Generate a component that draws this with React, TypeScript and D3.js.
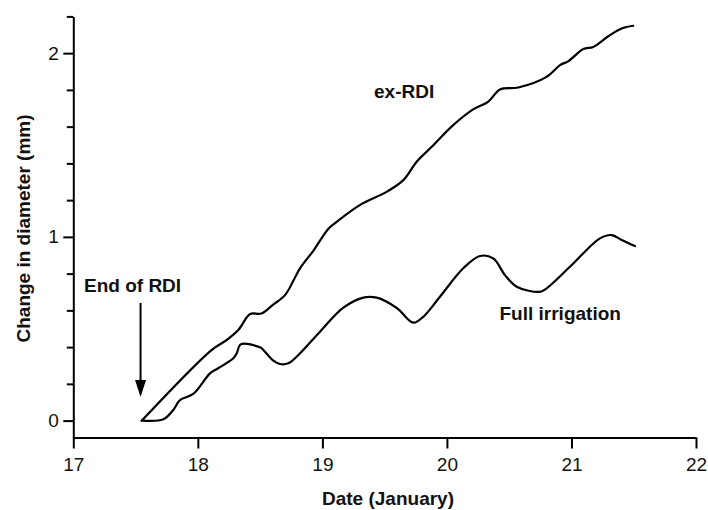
import React, { useEffect, useRef } from "react";
import * as d3 from "d3";

// Stem diameter change after the end of regulated deficit irrigation (RDI)
const exRdiDays = [
  17.55, 18.11, 18.23, 18.325, 18.42, 18.51, 18.6, 18.7, 18.77, 18.82, 18.93,
  19.05, 19.115, 19.3, 19.515, 19.65, 19.757, 19.878, 20.05, 20.21, 20.33,
  20.426, 20.573, 20.8, 20.908, 20.974, 21.095, 21.175, 21.296, 21.403, 21.496,
];
const exRdiValues = [
  0, 0.384, 0.438, 0.493, 0.58, 0.583, 0.629, 0.683, 0.765, 0.829, 0.927,
  1.046, 1.082, 1.173, 1.245, 1.309, 1.409, 1.49, 1.608, 1.694, 1.735,
  1.802, 1.813, 1.871, 1.935, 1.956, 2.022, 2.034, 2.092, 2.134, 2.149,
];

const fullDays = [
  17.55, 17.723, 17.803, 17.857, 17.963, 18.098, 18.164, 18.285, 18.312,
  18.344, 18.499, 18.526, 18.606, 18.66, 18.726, 18.807, 18.981, 19.166,
  19.328, 19.436, 19.597, 19.73, 19.81, 19.944, 20.131, 20.265, 20.372,
  20.466, 20.56, 20.747, 20.801, 20.988, 21.229, 21.323, 21.403, 21.51,
];
const fullValues = [
  0, 0.007, 0.058, 0.112, 0.145, 0.257, 0.285, 0.339, 0.366,
  0.415, 0.399, 0.384, 0.326, 0.308, 0.312, 0.357, 0.484, 0.613,
  0.669, 0.669, 0.613, 0.533, 0.565, 0.674, 0.829, 0.896, 0.883,
  0.792, 0.729, 0.701, 0.72, 0.837, 0.992, 1.01, 0.983, 0.95,
];

const xTicks = [17, 18, 19, 20, 21, 22];
const yMajorTicks = [0, 1, 2];
const yMinorTicks = [0.2, 0.4, 0.6, 0.8, 1.2, 1.4, 1.6, 1.8, 2.2];
const rdiEndDay = 17.54;

const W = 708;
const H = 510;
const FONT = "'Liberation Sans', Arial, Helvetica, sans-serif";

export default function App() {
  const ref = useRef<SVGSVGElement | null>(null);

  useEffect(() => {
    const svg = d3.select(ref.current);
    svg.selectAll("*").remove();

    const x = d3.scaleLinear().domain([17, 22]).range([73.3, 696]);
    const y = d3.scaleLinear().domain([-0.092, 2.2]).range([437.5, 16.4]);

    // x axis
    const gx = svg
      .append("g")
      .attr("transform", `translate(0,${y(-0.092)})`)
      .call(
        d3
          .axisBottom(x)
          .tickValues(xTicks)
          .tickFormat(d3.format("d"))
          .tickSize(11)
          .tickSizeOuter(0)
          .tickPadding(9)
      );
    gx.select(".domain").attr("stroke-width", 2);
    gx.selectAll(".tick line").attr("stroke-width", 2);
    gx.selectAll(".tick text")
      .attr("font-size", 19)
      .attr("font-family", FONT)
      .attr("fill", "#111");

    // y axis: minor ticks
    const gyMinor = svg
      .append("g")
      .attr("transform", `translate(${x(17)},0)`)
      .call(
        d3
          .axisLeft(y)
          .tickValues(yMinorTicks)
          .tickFormat(() => "")
          .tickSize(6.5)
          .tickSizeOuter(0)
      );
    gyMinor.select(".domain").remove();
    gyMinor.selectAll(".tick line").attr("stroke-width", 2);

    // y axis: major ticks with labels
    const gy = svg
      .append("g")
      .attr("transform", `translate(${x(17)},0)`)
      .call(
        d3
          .axisLeft(y)
          .tickValues(yMajorTicks)
          .tickFormat(d3.format("d"))
          .tickSize(10)
          .tickSizeOuter(0)
          .tickPadding(4.5)
      );
    gy.select(".domain").attr("stroke-width", 2);
    gy.selectAll(".tick line").attr("stroke-width", 2);
    gy.selectAll(".tick text")
      .attr("font-size", 19)
      .attr("font-family", FONT)
      .attr("fill", "#111");

    // series lines
    const line = d3
      .line<[number, number]>()
      .x((d) => x(d[0]))
      .y((d) => y(d[1]))
      .curve(d3.curveCatmullRom.alpha(0.5));

    const exRdi = exRdiDays.map((d, i) => [d, exRdiValues[i]] as [number, number]);
    const full = fullDays.map((d, i) => [d, fullValues[i]] as [number, number]);

    [exRdi, full].forEach((pts) => {
      svg
        .append("path")
        .attr("d", line(pts))
        .attr("fill", "none")
        .attr("stroke", "#000")
        .attr("stroke-width", 2.2)
        .attr("stroke-linejoin", "round")
        .attr("stroke-linecap", "round");
    });

    // "End of RDI" arrow
    const ax = x(rdiEndDay);
    svg
      .append("line")
      .attr("x1", ax)
      .attr("x2", ax)
      .attr("y1", 303)
      .attr("y2", 382)
      .attr("stroke", "#000")
      .attr("stroke-width", 2);
    svg
      .append("path")
      .attr("d", `M${ax - 5.5},380 L${ax + 5.5},380 L${ax},397 Z`)
      .attr("fill", "#000");

    const label = (text: string, lx: number, ly: number) =>
      svg
        .append("text")
        .attr("x", lx)
        .attr("y", ly)
        .attr("font-family", FONT)
        .attr("font-weight", "bold")
        .attr("font-size", 19)
        .attr("fill", "#111")
        .text(text);

    label("End of RDI", 84, 291.7);
    label("ex-RDI", 374, 98.3);
    label("Full irrigation", 499.5, 320);

    // axis titles
    svg
      .append("text")
      .attr("x", 388)
      .attr("y", 505)
      .attr("text-anchor", "middle")
      .attr("font-family", FONT)
      .attr("font-weight", "bold")
      .attr("font-size", 19)
      .attr("fill", "#111")
      .text("Date (January)");

    svg
      .append("text")
      .attr("transform", "translate(29.5,228.5) rotate(-90)")
      .attr("text-anchor", "middle")
      .attr("font-family", FONT)
      .attr("font-weight", "bold")
      .attr("font-size", 19)
      .attr("fill", "#111")
      .text("Change in diameter (mm)");
  }, []);

  return (
    <div style={{ position: "fixed", left: 0, top: 0, width: W, height: H, background: "#fff" }}>
      <svg ref={ref} width={W} height={H} style={{ display: "block" }} />
    </div>
  );
}
